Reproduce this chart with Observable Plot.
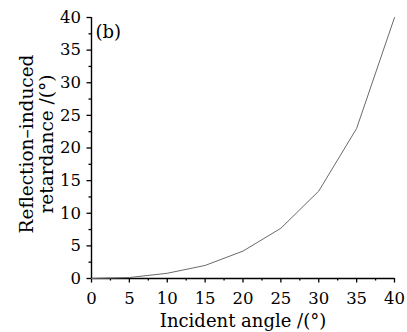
<!DOCTYPE html>
<html>
<head>
<meta charset="utf-8">
<script src="https://cdn.jsdelivr.net/npm/d3@7"></script>
<script src="https://cdn.jsdelivr.net/npm/@observablehq/plot@0.6"></script>
<style>
  html, body { margin: 0; padding: 0; background: #fff; }
  #chart svg { display: block; }
</style>
</head>
<body>
<div id="chart"></div>
<script>
const angles = [0, 5, 10, 15, 20, 25, 30, 35, 40];
const retardance = [0, 0.15, 0.8, 2.0, 4.2, 7.7, 13.4, 23.0, 40.0];
const majorTicks = [0, 5, 10, 15, 20, 25, 30, 35, 40];
const minorTicks = [2.5, 7.5, 12.5, 17.5, 22.5, 27.5, 32.5, 37.5];
const xTitle = "Incident angle /(°)";
const yTitle = "Reflection–induced\nretardance /(°)";
const panelLabel = "(b)";

const data = angles.map((a, i) => ({angle: a, value: retardance[i]}));
const font = "'DejaVu Serif', serif";

const chart = Plot.plot({
  width: 407,
  height: 332,
  marginLeft: 91,
  marginRight: 13,
  marginTop: 17,
  marginBottom: 54,
  style: {fontFamily: font, fontSize: "16px", color: "#000", background: "#fff"},
  x: {domain: [0, 40]},
  y: {domain: [0, 40]},
  marks: [
    Plot.axisX(majorTicks, {tickSize: 4.5, tickPadding: 9, label: null, fontSize: 16.5, strokeWidth: 1.3}),
    Plot.axisX(minorTicks, {tickSize: 2.5, text: null, label: null, strokeWidth: 1.3}),
    Plot.axisY(majorTicks, {tickSize: 4.5, tickPadding: 6, label: null, fontSize: 16.5, strokeWidth: 1.3}),
    Plot.axisY(minorTicks, {tickSize: 2.5, text: null, label: null, strokeWidth: 1.3}),
    Plot.ruleX([0], {stroke: "#000", strokeWidth: 1.4}),
    Plot.ruleY([0], {stroke: "#000", strokeWidth: 1.4}),
    Plot.line(data, {x: "angle", y: "value", stroke: "#6a6a6a", strokeWidth: 1}),
    Plot.text([xTitle], {frameAnchor: "bottom", dy: 48, fontSize: 18, fill: "#000"}),
    Plot.text([yTitle], {frameAnchor: "left", textAnchor: "middle", lineAnchor: "middle", rotate: -90, dx: -55, dy: -4, fontSize: 18.5, lineHeight: 1.1, fill: "#000"}),
    Plot.text([panelLabel], {frameAnchor: "top-left", dx: 4, dy: 8, fontSize: 18, fill: "#000", textAnchor: "start"})
  ]
});
document.getElementById("chart").appendChild(chart);
</script>
</body>
</html>
